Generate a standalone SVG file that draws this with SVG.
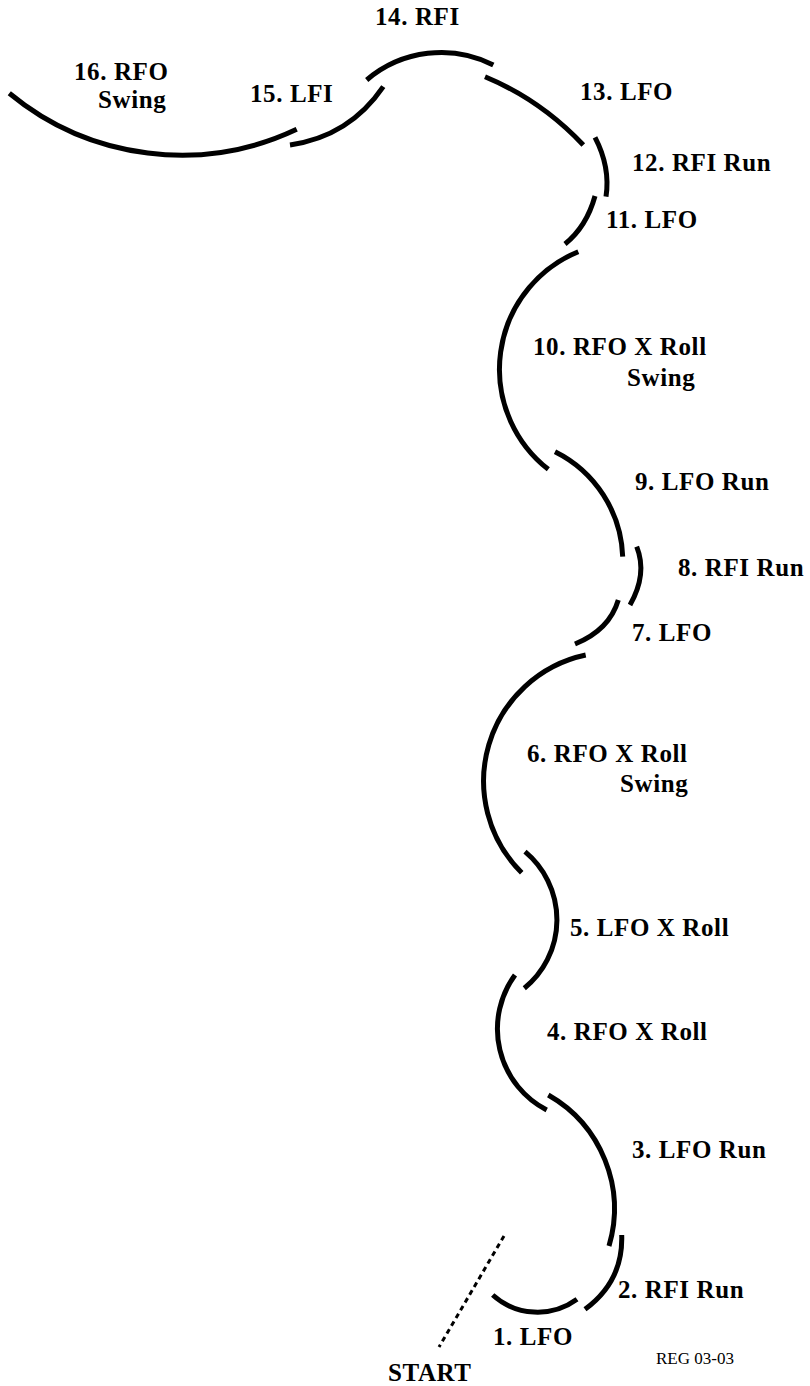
<svg xmlns="http://www.w3.org/2000/svg" width="810" height="1386" viewBox="0 0 810 1386">
<style>
.edge{fill:none;stroke:#000;stroke-width:5;stroke-linecap:butt}
</style>
<rect width="810" height="1386" fill="#fff"/>
<g id="connectors">
<path d="M504,1236 L439,1347" fill="none" stroke="#000" stroke-width="3" stroke-dasharray="5 4"/>
</g>
<g font-family="'Liberation Serif', 'DejaVu Serif', serif" font-weight="bold" font-size="25" letter-spacing="0.6" fill="#000">
<g id="start">
<text x="388" y="1381">START</text>
</g>
<g id="step1">
<path class="edge" d="M492.7,1295 A67,67 0 0 0 577,1299.3"/>
<text x="493" y="1345">1. LFO</text>
</g>
<g id="step2">
<path class="edge" d="M621.7,1235 Q623.3,1281.3 585,1309.3"/>
<text x="618" y="1298">2. RFI Run</text>
</g>
<g id="step3">
<path class="edge" d="M548.3,1095 A131,131 0 0 1 609,1246"/>
<text x="632" y="1158">3. LFO Run</text>
</g>
<g id="step4">
<path class="edge" d="M515,975 A91.4,91.4 0 0 0 546.7,1110"/>
<text x="547" y="1040">4. RFO X Roll</text>
</g>
<g id="step5">
<path class="edge" d="M525,851.7 A88.4,88.4 0 0 1 524.3,988.3"/>
<text x="570" y="936">5. LFO X Roll</text>
</g>
<g id="step6">
<path class="edge" d="M585.7,655 A129,129 0 0 0 521.7,872.7"/>
<text x="527" y="762">6. RFO X Roll</text>
<text x="620" y="792">Swing</text>
</g>
<g id="step7">
<path class="edge" d="M618.3,600 Q609.4,630 575,644"/>
<text x="632" y="641">7. LFO</text>
</g>
<g id="step8">
<path class="edge" d="M636.7,546.7 Q647.6,574.2 630,605"/>
<text x="678" y="576">8. RFI Run</text>
</g>
<g id="step9">
<path class="edge" d="M555,451.7 A122,122 0 0 1 622.7,556.7"/>
<text x="635" y="490">9. LFO Run</text>
</g>
<g id="step10">
<path class="edge" d="M578.3,251.7 A127,127 0 0 0 548.3,469.3"/>
<text x="533" y="355">10. RFO X Roll</text>
<text x="627" y="386">Swing</text>
</g>
<g id="step11">
<path class="edge" d="M595,196 Q586.6,226.6 565,244"/>
<text x="606" y="228">11. LFO</text>
</g>
<g id="step12">
<path class="edge" d="M595,137.3 Q610.5,167 606,196.7"/>
<text x="632" y="171">12. RFI Run</text>
</g>
<g id="step13">
<path class="edge" d="M485,76.7 Q541,100 583.3,145"/>
<text x="580" y="100">13. LFO</text>
</g>
<g id="step14">
<path class="edge" d="M366.7,80 A115,115 0 0 1 493.3,65"/>
<text x="375" y="25">14. RFI</text>
</g>
<g id="step15">
<path class="edge" d="M290,145 Q349.4,136.5 383.3,86.7"/>
<text x="250" y="102">15. LFI</text>
</g>
<g id="step16">
<path class="edge" d="M9.3,93.3 A270,270 0 0 0 296.7,129.3"/>
<text x="74" y="80">16. RFO</text>
<text x="98" y="108">Swing</text>
</g>
</g>
<g id="ref">
<text x="656" y="1364" font-family="'Liberation Serif', 'DejaVu Serif', serif" font-size="17" fill="#000">REG 03-03</text>
</g>
</svg>
